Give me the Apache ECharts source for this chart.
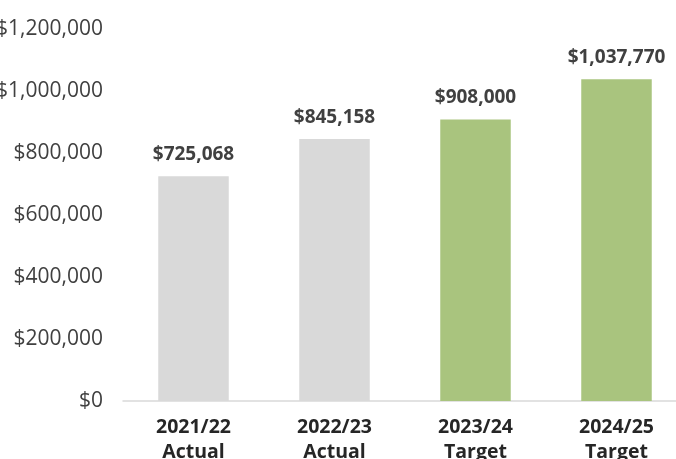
<!DOCTYPE html>
<html>
<head>
<meta charset="utf-8">
<script src="https://cdn.jsdelivr.net/npm/echarts@6/dist/echarts.min.js"></script>
<style>html,body{margin:0;padding:0;background:#fff}#c{width:676px;height:459px}</style>
</head>
<body>
<div id="c"></div>
<script>
const categories = ['2021/22\nActual', '2022/23\nActual', '2023/24\nTarget', '2024/25\nTarget'];
const values = [725068, 845158, 908000, 1037770];
const barColors = ['#d9d9d9', '#d9d9d9', '#a9c47e', '#a9c47e'];
const yTicks = { min: 0, max: 1200000, interval: 200000 };

const fmt = v => '$' + v.toLocaleString('en-US');
const font = '"Open Sans", "Noto Sans", sans-serif';

const chart = echarts.init(document.getElementById('c'));
chart.setOption({
  animation: false,
  grid: { left: 123, right: -11, top: 29, bottom: 58, containLabel: false, outerBoundsMode: 'none' },
  xAxis: {
    type: 'category',
    data: categories,
    axisLine: { lineStyle: { color: '#d9d9d9', width: 1.5 } },
    axisTick: { show: false },
    axisLabel: { color: '#262626', fontFamily: font, fontWeight: 'bold', fontSize: 19.5, lineHeight: 25, margin: 14 }
  },
  yAxis: {
    type: 'value',
    min: yTicks.min, max: yTicks.max, interval: yTicks.interval,
    splitLine: { show: false },
    axisLine: { show: false },
    axisTick: { show: false },
    axisLabel: { color: '#404040', fontFamily: font, fontSize: 21, margin: 20, formatter: v => fmt(v) }
  },
  series: [{
    type: 'bar',
    barWidth: '50%',
    data: values.map((v, i) => ({ value: v, itemStyle: { color: barColors[i] } })),
    label: {
      show: true, position: 'top', distance: 12,
      color: '#404040', fontFamily: font, fontWeight: 'bold', fontSize: 19,
      formatter: p => fmt(p.value)
    }
  }]
});
</script>
</body>
</html>
